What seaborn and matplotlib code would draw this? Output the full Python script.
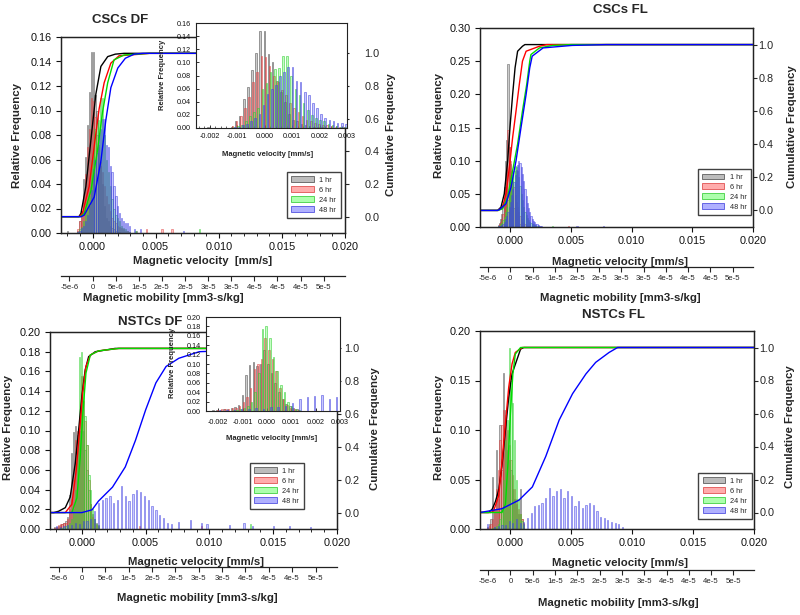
import numpy as np
import matplotlib
matplotlib.use("Agg")
import matplotlib.pyplot as plt
from matplotlib.colors import to_rgba
from matplotlib.patches import Patch
from matplotlib.ticker import MultipleLocator, FormatStrFormatter, FixedLocator
import seaborn as sns

# ======================= DATA =======================
HOURS = ["1 hr", "6 hr", "24 hr", "48 hr"]
VEL_TICKS = [0.000, 0.005, 0.010, 0.015, 0.020]
INSET_TICKS = [-0.002, -0.001, 0.000, 0.001, 0.002, 0.003]
MOB_TICKS = [-5e-6, 0, 5e-6, 1e-5, 1.5e-5, 2e-5, 2.5e-5, 3e-5, 3.5e-5, 4e-5, 4.5e-5, 5e-5]
MOB_LABELS = ["-5e-6", "0", "5e-6", "1e-5", "2e-5", "2e-5", "3e-5", "3e-5", "4e-5", "4e-5", "4e-5", "5e-5"]
MOBILITY_PER_VELOCITY = 0.00273
TITLES = ["CSCs DF", "CSCs FL", "NSTCs DF", "NSTCs FL"]

# ---- CSCs DF: histogram bins (start, step) and relative frequencies
cscdf_bin_start, cscdf_bin_step = -0.00130, 0.00015
cscdf_1hr = [0.000, 0.002, 0.010, 0.018, 0.044, 0.062, 0.088, 0.115, 0.148, 0.148, 0.113, 0.100, 0.072, 0.055,
             0.040, 0.022, 0.012, 0.010, 0.006, 0.004, 0.003, 0.002, 0.001, 0.001, 0.000, 0.000, 0.000, 0.000, 0.000]
cscdf_6hr = [0.000, 0.003, 0.010, 0.018, 0.030, 0.048, 0.070, 0.085, 0.110, 0.108, 0.095, 0.080, 0.070, 0.058,
             0.050, 0.038, 0.030, 0.024, 0.018, 0.012, 0.010, 0.008, 0.006, 0.005, 0.004, 0.003, 0.002, 0.002, 0.001]
cscdf_24hr = [0.000, 0.001, 0.003, 0.005, 0.010, 0.018, 0.025, 0.030, 0.060, 0.068, 0.085, 0.090, 0.092, 0.110,
              0.110, 0.080, 0.060, 0.050, 0.038, 0.028, 0.020, 0.015, 0.012, 0.010, 0.006, 0.004, 0.003, 0.002, 0.001]
cscdf_48hr = [0.000, 0.001, 0.002, 0.004, 0.006, 0.010, 0.015, 0.022, 0.035, 0.052, 0.060, 0.065, 0.080, 0.085,
              0.093, 0.093, 0.072, 0.070, 0.055, 0.050, 0.038, 0.030, 0.022, 0.016, 0.012, 0.010, 0.008, 0.008, 0.006]
cscdf_1hr_tail_x, cscdf_1hr_tail_h = [-0.0020, 0.0035], [0.002, 0.002]
cscdf_6hr_tail_x, cscdf_6hr_tail_h = [0.0043, 0.0055, 0.0063], [0.003, 0.003, 0.003]
cscdf_24hr_tail_x, cscdf_24hr_tail_h = [0.0034, 0.0085], [0.002, 0.003]
cscdf_48hr_tail_x, cscdf_48hr_tail_h = [0.0033, 0.0038, 0.0072], [0.003, 0.003, 0.002]
# cumulative curves
cscdf_cdf1_x = [-0.0025, -0.00108, -0.00092, -0.00053, -0.00013, 0.00026, 0.00066, 0.0012, 0.0018, 0.0025, 0.020]
cscdf_cdf1_y = [0.0, 0.0, 0.02, 0.185, 0.47, 0.75, 0.92, 0.98, 0.995, 1.0, 1.0]
cscdf_cdf6_x = [-0.0025, -0.00105, -0.0008, -0.00027, 0.00013, 0.00052, 0.00092, 0.00145, 0.0021, 0.0038, 0.0045, 0.020]
cscdf_cdf6_y = [0.0, 0.0, 0.02, 0.185, 0.43, 0.66, 0.82, 0.94, 0.985, 0.995, 1.0, 1.0]
cscdf_cdf24_x = [-0.0025, -0.00095, -0.00066, -0.00013, 0.0004, 0.00079, 0.0012, 0.0017, 0.0025, 0.0045, 0.020]
cscdf_cdf24_y = [0.0, 0.0, 0.02, 0.16, 0.41, 0.64, 0.82, 0.96, 0.99, 1.0, 1.0]
cscdf_cdf48_x = [-0.0025, -0.0009, -0.00066, 0.00013, 0.00066, 0.00105, 0.00145, 0.002, 0.0026, 0.0033, 0.004, 0.020]
cscdf_cdf48_y = [0.0, 0.0, 0.01, 0.12, 0.34, 0.59, 0.79, 0.91, 0.97, 0.995, 1.0, 1.0]

# ---- CSCs FL
cscfl_bin_start, cscfl_bin_step = -0.0010, 0.0001
cscfl_1hr = [0.003, 0.006, 0.012, 0.020, 0.035, 0.060, 0.100, 0.131, 0.245, 0.120, 0.095, 0.060, 0.040, 0.028,
             0.020, 0.012, 0.008, 0.005, 0.004, 0.003, 0.002, 0.001, 0, 0, 0, 0, 0, 0, 0, 0, 0, 0, 0, 0, 0, 0, 0]
cscfl_6hr = [0.002, 0.004, 0.008, 0.012, 0.020, 0.040, 0.060, 0.090, 0.146, 0.120, 0.100, 0.085, 0.070, 0.060,
             0.048, 0.038, 0.030, 0.022, 0.016, 0.012, 0.008, 0.006, 0.004, 0.003, 0.002, 0.002, 0.001,
             0, 0, 0, 0, 0, 0, 0, 0, 0, 0]
cscfl_24hr = [0.001, 0.002, 0.004, 0.006, 0.010, 0.015, 0.022, 0.030, 0.040, 0.050, 0.060, 0.070, 0.078, 0.085,
              0.092, 0.090, 0.085, 0.075, 0.062, 0.050, 0.040, 0.030, 0.022, 0.018, 0.014, 0.010, 0.008, 0.006,
              0.005, 0.004, 0.003, 0.002, 0.002, 0.001, 0, 0, 0]
cscfl_48hr = [0.001, 0.001, 0.002, 0.003, 0.005, 0.008, 0.012, 0.016, 0.022, 0.030, 0.038, 0.048, 0.058, 0.068,
              0.078, 0.086, 0.094, 0.100, 0.096, 0.090, 0.080, 0.070, 0.058, 0.046, 0.036, 0.028, 0.022, 0.016,
              0.012, 0.009, 0.007, 0.005, 0.004, 0.003, 0.002, 0.002, 0.001]
cscfl_1hr_tail_x, cscfl_1hr_tail_h = [], []
cscfl_6hr_tail_x, cscfl_6hr_tail_h = [0.0048], [0.002]
cscfl_24hr_tail_x, cscfl_24hr_tail_h = [0.0035], [0.002]
cscfl_48hr_tail_x, cscfl_48hr_tail_h = [0.0055, 0.0077], [0.002, 0.002]
cscfl_cdf1_x = [-0.0025, -0.00105, -0.00077, -0.0005, -0.00022, -0.00003, 0.00019, 0.00039, 0.0006, 0.001, 0.0012, 0.020]
cscfl_cdf1_y = [0.0, 0.0, 0.02, 0.10, 0.30, 0.50, 0.70, 0.86, 0.96, 0.99, 1.0, 1.0]
cscfl_cdf6_x = [-0.0025, -0.001, -0.00064, -0.00036, -0.00008, 0.00019, 0.00047, 0.00074, 0.001, 0.0013, 0.0024, 0.003, 0.020]
cscfl_cdf6_y = [0.0, 0.0, 0.02, 0.10, 0.26, 0.44, 0.60, 0.76, 0.90, 0.96, 0.99, 1.0, 1.0]
cscfl_cdf24_x = [-0.0025, -0.001, -0.00064, -0.00022, 0.00019, 0.0006, 0.001, 0.00135, 0.0016, 0.0017, 0.0024, 0.0035, 0.005, 0.020]
cscfl_cdf24_y = [0.0, 0.0, 0.01, 0.08, 0.24, 0.40, 0.60, 0.76, 0.90, 0.94, 0.98, 0.995, 1.0, 1.0]
cscfl_cdf48_x = [-0.0025, -0.00105, -0.0009, -0.00036, 0.00006, 0.00047, 0.00088, 0.0013, 0.0016, 0.0018, 0.0027, 0.0051, 0.0079, 0.020]
cscfl_cdf48_y = [0.0, 0.0, 0.005, 0.04, 0.14, 0.30, 0.50, 0.70, 0.86, 0.93, 0.98, 0.995, 1.0, 1.0]

# ---- NSTCs DF
nstcdf_bin_start, nstcdf_bin_step = -0.00215, 0.00015
nstcdf_48hr_bin_start, nstcdf_48hr_bin_step = -0.0020, 0.0003
nstcdf_1hr = [0.002, 0.002, 0.003, 0.004, 0.005, 0.006, 0.008, 0.012, 0.035, 0.077, 0.098, 0.105, 0.095, 0.100,
              0.130, 0.100, 0.080, 0.060, 0.040, 0.025, 0.015, 0.010, 0.006, 0.004]
nstcdf_6hr = [0.001, 0.002, 0.004, 0.005, 0.005, 0.006, 0.006, 0.010, 0.020, 0.030, 0.050, 0.090, 0.100, 0.110,
              0.155, 0.130, 0.110, 0.085, 0.050, 0.025, 0.012, 0.006, 0.004, 0.002]
nstcdf_24hr = [0.000, 0.000, 0.000, 0.001, 0.001, 0.002, 0.003, 0.004, 0.006, 0.010, 0.020, 0.040, 0.080, 0.175,
               0.180, 0.155, 0.115, 0.085, 0.055, 0.040, 0.020, 0.010, 0.005, 0.003]
nstcdf_48hr = [0.003, 0.002, 0.003, 0.004, 0.004, 0.006, 0.005, 0.008, 0.008, 0.010, 0.018, 0.026, 0.029, 0.031,
               0.033, 0.026, 0.029, 0.044, 0.033, 0.028, 0.036, 0.040, 0.038, 0.033, 0.029, 0.023, 0.019, 0.014,
               0.011, 0.006, 0.005]
nstcdf_1hr_tail_x, nstcdf_1hr_tail_h = [], []
nstcdf_6hr_tail_x, nstcdf_6hr_tail_h = [0.0045, 0.0094], [0.003, 0.003]
nstcdf_24hr_tail_x, nstcdf_24hr_tail_h = [0.0132], [0.005]
nstcdf_48hr_tail_x = [0.0076, 0.0085, 0.0094, 0.0098, 0.0116, 0.0127, 0.0134, 0.0150, 0.0163, 0.0179]
nstcdf_48hr_tail_h = [0.007, 0.009, 0.006, 0.005, 0.004, 0.006, 0.003, 0.003, 0.003, 0.002]
nstcdf_cdf1_x = [-0.0025, -0.0022, -0.00183, -0.0013, -0.00092, -0.00052, -0.00026, 0.0, 0.00026, 0.00053, 0.00105, 0.0026, 0.020]
nstcdf_cdf1_y = [0.0, 0.0, 0.008, 0.03, 0.094, 0.30, 0.50, 0.71, 0.87, 0.95, 0.98, 1.0, 1.0]
nstcdf_cdf6_x = [-0.0025, -0.0013, -0.00079, -0.00044, -0.00018, 0.00006, 0.00032, 0.00066, 0.0013, 0.0029, 0.020]
nstcdf_cdf6_y = [0.0, 0.0, 0.05, 0.26, 0.50, 0.73, 0.89, 0.96, 0.985, 1.0, 1.0]
nstcdf_cdf24_x = [-0.0025, -0.00079, -0.00039, -0.00013, 0.00008, 0.00032, 0.00066, 0.0013, 0.0029, 0.020]
nstcdf_cdf24_y = [0.0, 0.0, 0.09, 0.34, 0.61, 0.85, 0.96, 0.985, 1.0, 1.0]
nstcdf_cdf48_x = [-0.0025, 0.0, 0.0008, 0.0013, 0.0024, 0.0034, 0.0042, 0.0050, 0.0058, 0.0066, 0.0076, 0.0092, 0.0125, 0.020]
nstcdf_cdf48_y = [0.0, 0.0, 0.017, 0.07, 0.155, 0.278, 0.44, 0.626, 0.79, 0.89, 0.94, 0.98, 0.99, 1.0]

# ---- NSTCs FL
nstcfl_bin_start, nstcfl_bin_step = -0.00190, 0.00015
nstcfl_48hr_bin_start, nstcfl_48hr_bin_step = -0.0019, 0.0003
nstcfl_1hr = [0.002, 0.005, 0.010, 0.053, 0.020, 0.080, 0.030, 0.105, 0.060, 0.158, 0.120, 0.080, 0.070, 0.060,
              0.040, 0.030, 0.025, 0.015, 0.040, 0.010, 0.005]
nstcfl_6hr = [0.001, 0.003, 0.005, 0.010, 0.020, 0.040, 0.060, 0.090, 0.105, 0.120, 0.115, 0.100, 0.085, 0.070,
              0.055, 0.040, 0.030, 0.020, 0.015, 0.010, 0.006]
nstcfl_24hr = [0.000, 0.000, 0.000, 0.001, 0.002, 0.003, 0.005, 0.010, 0.020, 0.050, 0.090, 0.110, 0.183, 0.150,
               0.127, 0.090, 0.050, 0.030, 0.015, 0.008, 0.004]
nstcfl_48hr = [0.005, 0.000, 0.002, 0.003, 0.004, 0.004, 0.008, 0.006, 0.010, 0.006, 0.007, 0.011, 0.016, 0.023,
               0.024, 0.026, 0.031, 0.041, 0.033, 0.038, 0.040, 0.031, 0.038, 0.033, 0.023, 0.028, 0.021, 0.024,
               0.026, 0.024, 0.018, 0.012, 0.011, 0.009, 0.007, 0.006, 0.005, 0.002]
nstcfl_1hr_tail_x, nstcfl_1hr_tail_h = [], []
nstcfl_6hr_tail_x, nstcfl_6hr_tail_h = [], []
nstcfl_24hr_tail_x, nstcfl_24hr_tail_h = [], []
nstcfl_48hr_tail_x, nstcfl_48hr_tail_h = [], []
nstcfl_cdf1_x = [-0.0025, -0.0018, -0.0015, -0.00124, -0.00097, -0.0007, -0.00041, -0.00014, 0.00013, 0.00055, 0.00083, 0.0011, 0.020]
nstcfl_cdf1_y = [0.0, 0.0, 0.02, 0.065, 0.135, 0.28, 0.50, 0.70, 0.84, 0.93, 0.99, 1.0, 1.0]
nstcfl_cdf6_x = [-0.0025, -0.0016, -0.00138, -0.00097, -0.0007, -0.00041, -0.00014, 0.00013, 0.0004, 0.00096, 0.020]
nstcfl_cdf6_y = [0.0, 0.0, 0.01, 0.10, 0.30, 0.54, 0.76, 0.90, 0.97, 1.0, 1.0]
nstcfl_cdf24_x = [-0.0025, -0.0007, -0.00041, -0.0002, 0.0, 0.0002, 0.0004, 0.00083, 0.020]
nstcfl_cdf24_y = [0.0, 0.0, 0.05, 0.30, 0.60, 0.84, 0.96, 1.0, 1.0]
nstcfl_cdf48_x = [-0.0025, -0.0007, 0.0007, 0.0018, 0.0029, 0.004, 0.0051, 0.0062, 0.007, 0.0081, 0.0088, 0.020]
nstcfl_cdf48_y = [0.0, 0.023, 0.075, 0.155, 0.34, 0.56, 0.72, 0.84, 0.91, 0.97, 1.0, 1.0]

# ======================= STYLE / LAYOUT =======================
sns.set_theme(style="ticks")
plt.rcParams["font.family"] = ["Liberation Sans", "DejaVu Sans"]
plt.rcParams["axes.edgecolor"] = "#222222"
plt.rcParams["axes.linewidth"] = 0.9

FILL = ["#7a7a7a", "#ff3a3a", "#3aff3a", "#3a3aff"]
FILL_A = [0.38, 0.30, 0.30, 0.28]
EDGE = ["#505050", "#dd4444", "#33cc33", "#4444dd"]
LINE = ["#000000", "#ff0000", "#00dd00", "#0000ff"]
XMIN, XMAX = -0.0025, 0.020
IN_XMIN, IN_XMAX = -0.0025, 0.003
W, H = 800, 615

fig = plt.figure(figsize=(W / 100, H / 100), dpi=100)
fig.patch.set_facecolor("white")


def px_rect(box):
    x0, y0, x1, y1 = box
    return [x0 / W, 1 - y1 / H, (x1 - x0) / W, (y1 - y0) / H]


def ftext(s, x, y, **kw):
    fig.text(x / W, 1 - y / H, s, ha="center", va="center", **kw)


def centers(start, step, n):
    return start + step * np.arange(n)


def build(prefix, core_start, core_step, b48_start=None, b48_step=None):
    g = globals()
    out = []
    for key in ["1hr", "6hr", "24hr", "48hr"]:
        h = g[f"{prefix}_{key}"]
        if key == "48hr" and b48_start is not None:
            x = centers(b48_start, b48_step, len(h))
        else:
            x = centers(core_start, core_step, len(h))
        out.append(dict(x=x, h=np.array(h),
                        tx=np.array(g[f"{prefix}_{key}_tail_x"]), th=np.array(g[f"{prefix}_{key}_tail_h"])))
    cdfs = [(g[f"{prefix}_cdf{k}_x"], g[f"{prefix}_cdf{k}_y"]) for k in ["1", "6", "24", "48"]]
    return out, cdfs


def draw_bars(ax, series, width, offsets, lw=0.45):
    for i, s in enumerate(series):
        fc = to_rgba(FILL[i], FILL_A[i])
        ec = to_rgba(EDGE[i], 0.75)
        for x, h in ((s["x"], s["h"]), (s["tx"], s["th"])):
            if len(x) == 0:
                continue
            m = h > 0
            ax.bar(x[m] + offsets[i], h[m], width=width, facecolor=fc, edgecolor=ec, linewidth=lw, zorder=2)


def panel(P, series, cdfs):
    ax = fig.add_axes(px_rect(P["box"]))
    ax.set_facecolor("white")
    draw_bars(ax, series, 0.0001, [0, 0, 0, 0])
    ax.set_xlim(XMIN, XMAX)
    ax.set_ylim(0, P["ymax"])
    ax.set_xticks(VEL_TICKS)
    ax.xaxis.set_major_formatter(FormatStrFormatter("%.3f"))
    ax.yaxis.set_major_locator(MultipleLocator(P["ystep"]))
    ax.yaxis.set_major_formatter(FormatStrFormatter("%.2f"))
    if P["minor"]:
        ax.xaxis.set_minor_locator(FixedLocator(np.round(np.arange(-0.002, 0.0201, 0.001), 4)))
        ax.tick_params(axis="x", which="minor", direction="out", length=2.5, width=0.7)
    ax.tick_params(axis="both", which="major", direction="out", length=3.5, width=0.8,
                   labelsize=7.8, pad=3, colors="#111111")
    for sp in ax.spines.values():
        sp.set_visible(True)

    ax2 = ax.twinx()
    for i, (cx, cy) in enumerate(cdfs):
        sns.lineplot(x=cx, y=cy, ax=ax2, color=LINE[i], linewidth=1.0, sort=False,
                     estimator=None, legend=False)
    ax2.set_xlim(XMIN, XMAX)
    ax2.set_ylim(-0.1, 1.1)
    ax2.set_yticks([0.0, 0.2, 0.4, 0.6, 0.8, 1.0])
    ax2.yaxis.set_major_formatter(FormatStrFormatter("%.1f"))
    ax2.tick_params(axis="y", direction="out", length=3, width=0.8, labelsize=7.8, pad=P["rpad"])
    ax2.set_xlabel("")
    ax2.set_ylabel("")

    sec = ax.secondary_xaxis(P["sec"], functions=(lambda v: v * MOBILITY_PER_VELOCITY,
                                                  lambda m: m / MOBILITY_PER_VELOCITY))
    sec.set_xticks(MOB_TICKS, labels=MOB_LABELS)
    sec.tick_params(axis="x", direction="out", length=3.5, width=0.8, labelsize=5.6, pad=2)

    handles = [Patch(facecolor=to_rgba(FILL[i], FILL_A[i] + 0.12), edgecolor=to_rgba(EDGE[i], 0.9),
                     linewidth=0.6, label=HOURS[i]) for i in range(4)]
    leg = ax2.legend(handles=handles, loc="upper left", bbox_to_anchor=P["legend"], fontsize=5.3,
                     frameon=True, fancybox=False, handlelength=3.0, handleheight=0.8,
                     handletextpad=0.8, labelspacing=0.35, borderpad=0.6, borderaxespad=0)
    leg.get_frame().set_edgecolor("#111111")
    leg.get_frame().set_linewidth(1.0)

    ftext(P["title"], *P["title_xy"], fontsize=9.5, fontweight="bold")
    ftext(P["xlabel"], *P["xlabel_xy"], fontsize=8.2, fontweight="bold")
    ftext("Relative Frequency", *P["ylabel_xy"], fontsize=8.2, fontweight="bold", rotation=90)
    ftext("Cumulative Frequency", *P["rlabel_xy"], fontsize=8.2, fontweight="bold", rotation=90)
    ftext("Magnetic mobility [mm3-s/kg]", *P["mlabel_xy"], fontsize=8.2, fontweight="bold")

    if "inset" in P:
        I = P["inset"]
        ai = fig.add_axes(px_rect(I["box"]), zorder=5)
        ai.set_facecolor("white")
        bw = 0.00004
        draw_bars(ai, series, 0.00006, [(-1.5 + i) * bw for i in range(4)], lw=0.5)
        ai.set_xlim(IN_XMIN, IN_XMAX)
        ai.set_ylim(0, I["ymax"])
        ai.set_xticks(INSET_TICKS)
        ai.xaxis.set_major_formatter(FormatStrFormatter("%.3f"))
        ai.yaxis.set_major_locator(MultipleLocator(0.02))
        ai.yaxis.set_major_formatter(FormatStrFormatter("%.2f"))
        if I["minor"]:
            ai.xaxis.set_minor_locator(MultipleLocator(0.0002))
            ai.tick_params(axis="x", which="minor", direction="in", length=1.5, width=0.5)
        ai.tick_params(axis="both", which="major", direction="in", length=2.5, width=0.6,
                       labelsize=5.2, pad=3.5, colors="#111111")
        ai.tick_params(axis="x", which="major", pad=I["xpad"])
        for sp in ai.spines.values():
            sp.set_linewidth(0.8)
        ftext("Magnetic velocity [mm/s]", *I["xlabel_xy"], fontsize=5.5, fontweight="bold")
        ftext("Relative Frequency", *I["ylabel_xy"], fontsize=5.5, fontweight="bold", rotation=90)
    return ax


PANELS = [
    dict(prefix="cscdf", box=(61, 37, 345, 233), ymax=0.16, ystep=0.02, minor=True, sec=-0.219, rpad=11,
         legend=(0.796, 0.311), title=TITLES[0], title_xy=(120, 20),
         xlabel="Magnetic velocity  [mm/s]", xlabel_xy=(203, 261), ylabel_xy=(17, 135), rlabel_xy=(391, 135),
         mlabel_xy=(163, 298),
         inset=dict(box=(196, 23, 347, 128), ymax=0.16, minor=True, xpad=3.5,
                    xlabel_xy=(268, 155), ylabel_xy=(163, 75))),
    dict(prefix="cscfl", box=(480, 28, 753, 227), ymax=0.30, ystep=0.05, minor=False, sec=-0.201, rpad=1,
         legend=(0.797, 0.291), title=TITLES[1], title_xy=(620, 10),
         xlabel="Magnetic velocity [mm/s]", xlabel_xy=(620, 262), ylabel_xy=(439, 125), rlabel_xy=(792, 127),
         mlabel_xy=(620, 298)),
    dict(prefix="nstcdf", box=(50, 332, 337, 529), ymax=0.20, ystep=0.02, minor=True, sec=-0.193, rpad=2.5,
         legend=(0.697, 0.335), title=TITLES[2], title_xy=(150, 322),
         xlabel="Magnetic velocity [mm/s]", xlabel_xy=(196, 562), ylabel_xy=(8, 427), rlabel_xy=(375, 429),
         mlabel_xy=(197, 598),
         inset=dict(box=(206, 317, 340, 411), ymax=0.20, minor=False, xpad=5.5,
                    xlabel_xy=(272, 438), ylabel_xy=(173, 363))),
    dict(prefix="nstcfl", box=(480, 331, 754, 529), ymax=0.20, ystep=0.05, minor=False, sec=-0.207, rpad=1,
         legend=(0.796, 0.283), title=TITLES[3], title_xy=(613, 315),
         xlabel="Magnetic velocity [mm/s]", xlabel_xy=(620, 563), ylabel_xy=(439, 427), rlabel_xy=(790, 427),
         mlabel_xy=(618, 603)),
]

BINS = {
    "cscdf": (cscdf_bin_start, cscdf_bin_step, None, None),
    "cscfl": (cscfl_bin_start, cscfl_bin_step, None, None),
    "nstcdf": (nstcdf_bin_start, nstcdf_bin_step, nstcdf_48hr_bin_start, nstcdf_48hr_bin_step),
    "nstcfl": (nstcfl_bin_start, nstcfl_bin_step, nstcfl_48hr_bin_start, nstcfl_48hr_bin_step),
}

for P in PANELS:
    s, c = build(P["prefix"], *BINS[P["prefix"]])
    panel(P, s, c)

fig.savefig("out.png", dpi=100, facecolor="white")
